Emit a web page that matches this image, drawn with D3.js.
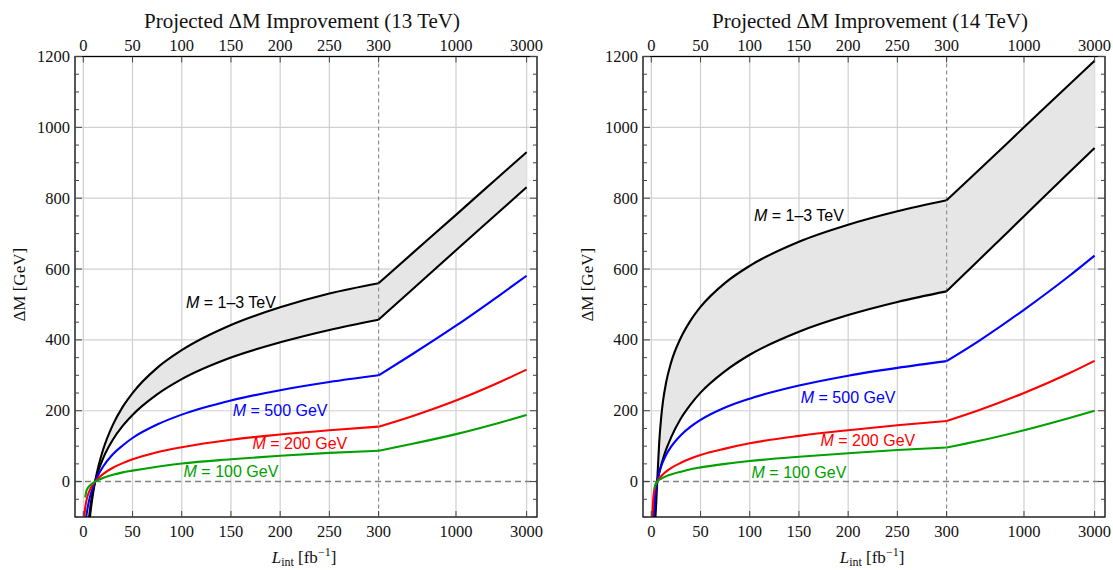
<!DOCTYPE html>
<html>
<head>
<meta charset="utf-8">
<script src="https://cdn.jsdelivr.net/npm/d3@7"></script>
<style>
  body { margin: 0; background: #fff; }
  svg { display: block; }
</style>
</head>
<body>
<svg id="chart" width="1113" height="570"></svg>
<script>
// Integrated luminosity sampling points (fb^-1)
const lumi = [1, 2, 3, 4, 5, 6, 8, 10, 12, 15, 20, 30, 40, 50, 75, 100, 150, 200, 250, 300, 500, 1000, 2000, 3000];
const xTickValues = [0, 50, 100, 150, 200, 250, 300, 1000, 3000];
const yTickValues = [0, 200, 400, 600, 800, 1000, 1200];

// 13 TeV projections, ΔM in GeV
const upper13 = [-435, -314, -243, -192, -153, -121, -71, -32, 0, 39, 89, 160, 211, 250, 321, 371, 442, 492, 531, 560, 642, 753, 865, 930];
const lower13 = [-420, -290, -215, -165, -128, -98, -55, -24, 0, 28, 65, 118, 157, 188, 246, 289, 350, 393, 428, 457, 540, 653, 765, 831];
const m500_13 = [-175, -127, -100, -81, -65, -52, -31, -14, 0, 18, 42, 77, 102, 123, 161, 189, 229, 258, 281, 300, 358, 440, 528, 581];
const m200_13 = [-99, -72, -56, -44, -35, -28, -16, -7, 0, 9, 21, 39, 52, 63, 83, 97, 118, 133, 145, 155, 184, 229, 282, 316];
const m100_13 = [null, -45, -28, -21, -16.5, -13, -7.5, -3.5, 0, 4, 10, 19, 26, 31, 42, 51, 63, 73, 81, 87, 106, 134, 167, 188];

// 14 TeV projections, ΔM in GeV
const upper14 = [-350, -230, -160, -110, -60, 0, 109, 180, 229, 279, 335, 406, 455, 493, 561, 609, 677, 725, 763, 794, 881, 1000, 1119, 1188];
const lower14 = [-220, -130, -75, -40, -15, 0, 25, 46, 65, 90, 124, 178, 218, 251, 312, 358, 423, 470, 507, 537, 627, 749, 871, 942];
const m500_14 = [-230, -140, -80, -42, -18, 0, 24, 43, 57, 75, 98, 131, 155, 174, 209, 234, 271, 299, 321, 340, 398, 485, 579, 638];
const m200_14 = [-100, -48, -26, -14, -6, 0, 9, 15, 21, 28, 38, 53, 65, 75, 93, 108, 129, 145, 159, 171, 202, 250, 305, 341];
const m100_14 = [null, null, -22, -10, -4, 0, 5, 8, 11, 15, 20, 28, 35, 40, 50, 58, 70, 80, 89, 96, 115, 145, 179, 200];

// Curve annotations: [luminosity, ΔM] of the label centre
const labels13 = [
  { text: "1\u20133 TeV", at: [150, 508], color: "#000" },
  { text: "500 GeV", at: [200, 202], color: "#0000ff" },
  { text: "200 GeV", at: [220, 108], color: "#ff0000" },
  { text: "100 GeV", at: [150, 30], color: "#00a000" }
];
const labels14 = [
  { text: "1\u20133 TeV", at: [150, 753], color: "#000" },
  { text: "500 GeV", at: [200, 240], color: "#0000ff" },
  { text: "200 GeV", at: [220, 117], color: "#ff0000" },
  { text: "100 GeV", at: [150, 28], color: "#00a000" }
];

const svg = d3.select("#chart");
svg.append("rect").attr("width", 1113).attr("height", 570).attr("fill", "#fff");

const serif = "'Liberation Serif', 'Times New Roman', serif";
const sans = "'Liberation Sans', Arial, sans-serif";

const W = 462, H = 460.5, TOP = 56.5;

// Linear below 300 fb^-1, logarithmic above
const xLin = d3.scaleLinear().domain([0, 300]).range([8.3, 303.6]);
const xLog = d3.scaleLog().domain([300, 3000]).range([303.6, 451.6]);
const xPos = L => (L <= 300 ? xLin(L) : xLog(L));
const y = d3.scaleLinear().domain([-100, 1200]).range([H, 0]);

function drawPanel(left, id, title, series, band, labels) {
  const g = svg.append("g").attr("transform", `translate(${left},${TOP})`);

  g.append("clipPath").attr("id", id)
    .append("rect").attr("width", W).attr("height", H);

  // grid
  const grid = g.append("g");
  xTickValues.filter(v => v !== 300).forEach(v => {
    grid.append("line").attr("x1", xPos(v)).attr("x2", xPos(v))
      .attr("y1", 0).attr("y2", H).attr("stroke", "#d0d0d0").attr("stroke-width", 1.2);
  });
  yTickValues.filter(v => v !== 0).forEach(v => {
    grid.append("line").attr("x1", 0).attr("x2", W)
      .attr("y1", y(v)).attr("y2", y(v)).attr("stroke", "#d0d0d0").attr("stroke-width", 1.2);
  });

  const plot = g.append("g").attr("clip-path", `url(#${id})`);

  const pts = (vals) => lumi.map((L, i) => [L, vals[i]]);
  const pieces = (arr) => [arr.filter(d => d[0] <= 300), arr.filter(d => d[0] >= 300)];

  // band between the two heavy-mass curves, split at the scale break
  const area = d3.area()
    .x(d => xPos(d.L)).y0(d => y(d.lo)).y1(d => y(d.hi))
    .curve(d3.curveMonotoneX);
  const bandPts = lumi.map((L, i) => ({ L, lo: band[1][i], hi: band[0][i] }));
  [bandPts.filter(d => d.L <= 300), bandPts.filter(d => d.L >= 300)].forEach(p => {
    plot.append("path").attr("d", area(p)).attr("fill", "#e6e6e6").attr("stroke", "none");
  });

  // reference lines
  plot.append("line").attr("x1", 0).attr("x2", W).attr("y1", y(0)).attr("y2", y(0))
    .attr("stroke", "#808080").attr("stroke-width", 1.5).attr("stroke-dasharray", "6,4");
  plot.append("line").attr("x1", xPos(300)).attr("x2", xPos(300)).attr("y1", 0).attr("y2", H)
    .attr("stroke", "#909090").attr("stroke-width", 1.2).attr("stroke-dasharray", "4,3");

  const line = d3.line()
    .defined(d => d[1] != null)
    .x(d => xPos(d[0])).y(d => y(d[1]))
    .curve(d3.curveMonotoneX);

  series.forEach(s => {
    pieces(pts(s.values)).forEach(p => {
      plot.append("path").attr("d", line(p)).attr("fill", "none")
        .attr("stroke", s.color).attr("stroke-width", 2.1).attr("stroke-linejoin", "round");
    });
  });

  // curve labels
  labels.forEach(l => {
    const t = g.append("text")
      .attr("x", xPos(l.at[0])).attr("y", y(l.at[1]))
      .attr("text-anchor", "middle").attr("dominant-baseline", "central")
      .attr("font-family", sans).attr("font-size", 16).attr("fill", l.color);
    t.append("tspan").attr("font-style", "italic").text("M");
    t.append("tspan").text(" = " + l.text);
  });

  // frame
  g.append("rect").attr("width", W).attr("height", H)
    .attr("fill", "none").attr("stroke", "#000").attr("stroke-width", 1.3);

  // ticks on the frame
  const tk = g.append("g").attr("stroke", "#444").attr("stroke-width", 1);
  xTickValues.forEach(v => {
    tk.append("line").attr("x1", xPos(v)).attr("x2", xPos(v)).attr("y1", H).attr("y2", H - 6);
    tk.append("line").attr("x1", xPos(v)).attr("x2", xPos(v)).attr("y1", 0).attr("y2", 6);
  });
  d3.range(-100, 1201, 50).forEach(v => {
    const len = v % 200 === 0 ? 7 : 4;
    tk.append("line").attr("x1", 0).attr("x2", len).attr("y1", y(v)).attr("y2", y(v));
    tk.append("line").attr("x1", W).attr("x2", W - len).attr("y1", y(v)).attr("y2", y(v));
  });

  // tick labels
  const fmt = v => String(v);
  xTickValues.forEach(v => {
    g.append("text").attr("x", xPos(v)).attr("y", H + 20)
      .attr("text-anchor", "middle").attr("font-family", serif).attr("font-size", 16.5)
      .attr("fill", "#111").text(fmt(v));
    g.append("text").attr("x", xPos(v)).attr("y", -6)
      .attr("text-anchor", "middle").attr("font-family", serif).attr("font-size", 16.5)
      .attr("fill", "#111").text(fmt(v));
  });
  yTickValues.forEach(v => {
    g.append("text").attr("x", -5).attr("y", y(v))
      .attr("text-anchor", "end").attr("dominant-baseline", "central")
      .attr("font-family", serif).attr("font-size", 16.5).attr("fill", "#111").text(fmt(v));
  });

  // titles
  g.append("text").attr("x", W / 2 - 4).attr("y", -28.5)
    .attr("text-anchor", "middle").attr("font-family", serif).attr("font-size", 21)
    .attr("fill", "#111").text(title);

  const xl = g.append("text").attr("x", W / 2 - 2).attr("y", H + 46)
    .attr("text-anchor", "middle").attr("font-family", serif).attr("font-size", 17).attr("fill", "#111");
  xl.append("tspan").attr("font-style", "italic").text("L");
  xl.append("tspan").attr("font-size", 12).attr("dy", 3).text("int");
  xl.append("tspan").attr("dy", -3).text(" [fb");
  xl.append("tspan").attr("font-size", 12).attr("dy", -7).text("\u22121");
  xl.append("tspan").attr("dy", 7).text("]");

  g.append("text")
    .attr("transform", `translate(${-50},${H / 2 - 2}) rotate(-90)`)
    .attr("text-anchor", "middle").attr("font-family", serif).attr("font-size", 17)
    .attr("fill", "#111").text("\u0394M [GeV]");
}

drawPanel(75, "clip13", "Projected \u0394M Improvement (13 TeV)",
  [
    { values: upper13, color: "#000" },
    { values: lower13, color: "#000" },
    { values: m500_13, color: "#0000ff" },
    { values: m200_13, color: "#ff0000" },
    { values: m100_13, color: "#00a000" }
  ],
  [upper13, lower13], labels13);

drawPanel(643, "clip14", "Projected \u0394M Improvement (14 TeV)",
  [
    { values: upper14, color: "#000" },
    { values: lower14, color: "#000" },
    { values: m500_14, color: "#0000ff" },
    { values: m200_14, color: "#ff0000" },
    { values: m100_14, color: "#00a000" }
  ],
  [upper14, lower14], labels14);
</script>
</body>
</html>
